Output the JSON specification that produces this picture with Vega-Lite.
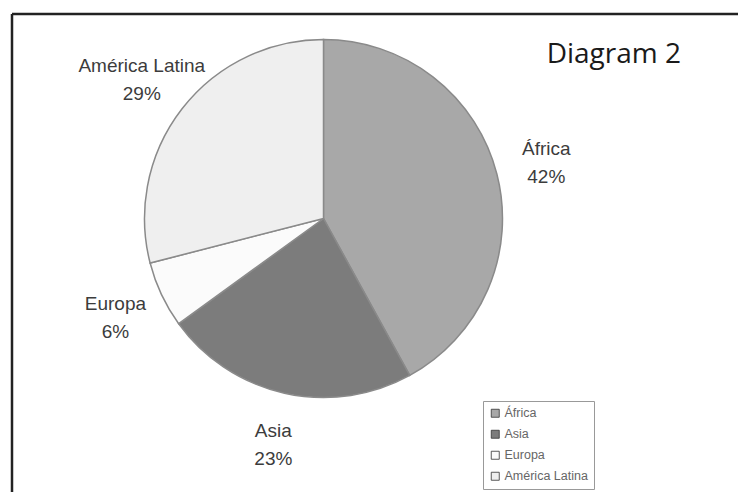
{
  "$schema": "https://vega.github.io/schema/vega-lite/v6.json",
  "padding": {"left": 10, "top": 12, "right": 0, "bottom": 0},
  "background": "white",
  "spacing": 0,
  "bounds": "flush",
  "columns": 2,
  "datasets": {
    "shares": [
      {"region": "África", "share": 42, "pct": "42%", "ord": 1},
      {"region": "Asia", "share": 23, "pct": "23%", "ord": 2},
      {"region": "Europa", "share": 6, "pct": "6%", "ord": 3},
      {"region": "América Latina", "share": 29, "pct": "29%", "ord": 4}
    ]
  },
  "concat": [
    {
      "width": 623,
      "height": 409,
      "view": {"stroke": "#222", "strokeWidth": 2.5, "strokeDash": [623, 1032, 409, 0], "fill": null},
      "title": {"text": "Diagram 2", "anchor": "end", "frame": "group", "dx": 46, "offset": -77, "baseline": "alphabetic", "font": "Open Sans", "fontSize": 28, "fontWeight": "normal", "color": "#1a1a1a"},
      "data": {"name": "shares"},
      "encoding": {
        "theta": {"field": "share", "type": "quantitative", "stack": true},
        "order": {"field": "ord", "type": "quantitative"}
      },
      "layer": [
        {
          "mark": {"type": "arc", "outerRadius": 179, "stroke": "#8a8a8a", "strokeWidth": 1.5},
          "encoding": {
            "color": {
              "field": "region", "type": "nominal",
              "scale": {"domain": ["África", "Asia", "Europa", "América Latina"], "range": ["#a8a8a8", "#7c7c7c", "#fbfbfb", "#efefef"]},
              "legend": {"orient": "none", "legendX": 471, "legendY": 387, "title": null, "symbolType": "square", "symbolSize": 64, "symbolStrokeColor": "#333", "symbolStrokeWidth": 0.8, "labelFont": "Liberation Sans", "labelFontSize": 12.5, "labelColor": "#666", "strokeColor": "#999", "fillColor": "white", "padding": 6, "rowPadding": 8, "labelOffset": 3}
            }
          }
        },
        {
          "mark": {"type": "text", "radius": 230, "dy": -12, "font": "Liberation Sans", "fontSize": 19, "fill": "#3c3c3c"},
          "encoding": {"text": {"field": "region"}, "detail": {"field": "region"}}
        },
        {
          "mark": {"type": "text", "radius": 230, "dy": 16, "font": "Liberation Sans", "fontSize": 19, "fill": "#3c3c3c"},
          "encoding": {"text": {"field": "pct"}, "detail": {"field": "region"}}
        }
      ]
    },
    {
      "width": 103,
      "height": 409,
      "view": {"stroke": "#222", "strokeWidth": 2.5, "strokeDash": [103, 2000], "fill": null},
      "data": {"values": []},
      "mark": "point"
    },
    {
      "width": 623,
      "height": 69,
      "view": {"stroke": "#222", "strokeWidth": 2.5, "strokeDash": [0, 1315, 69, 0], "fill": null},
      "data": {"values": []},
      "mark": "point"
    },
    {
      "width": 103,
      "height": 69,
      "view": {"stroke": null, "fill": null},
      "data": {"values": []},
      "mark": "point"
    }
  ]
}
